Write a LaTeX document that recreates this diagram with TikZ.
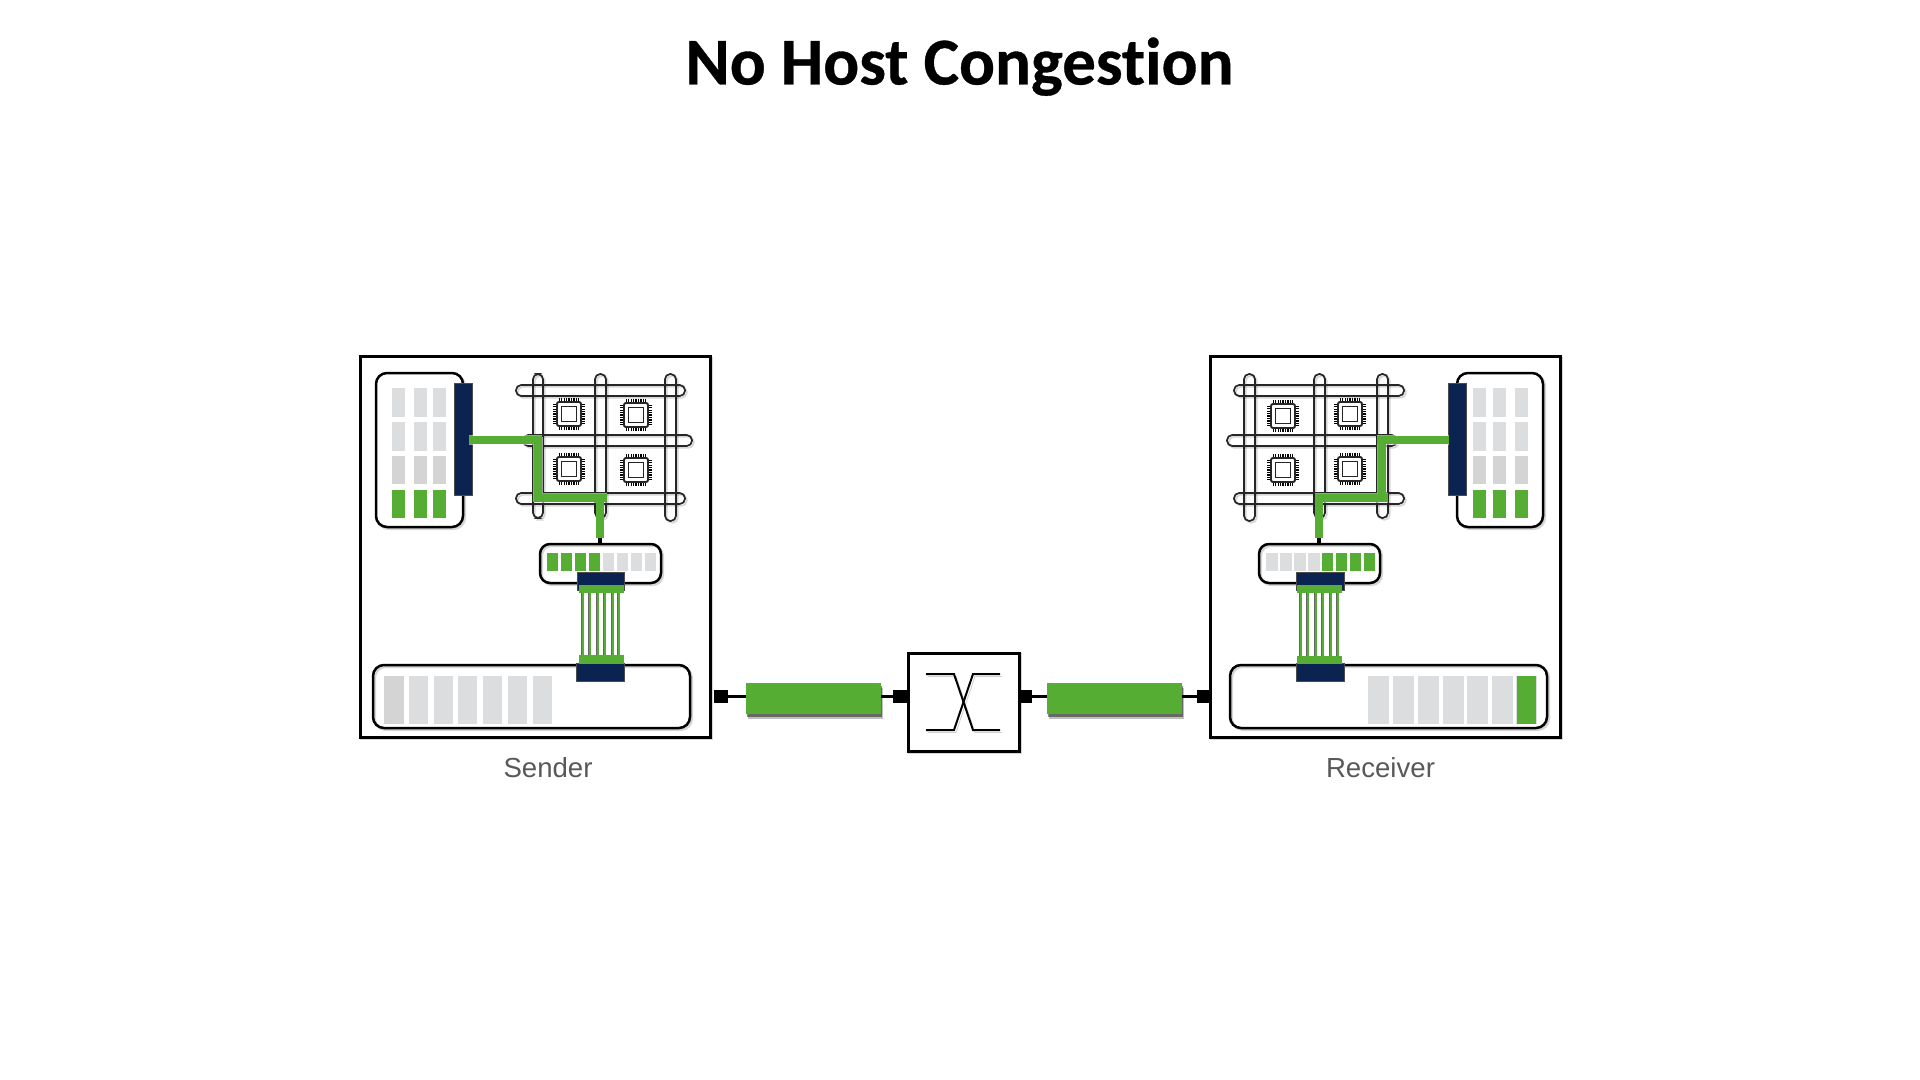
\documentclass[tikz,border=0pt]{standalone}
\usepackage{fontspec}
\setmainfont{Liberation Sans}
\newfontfamily\titlefont[Ligatures=NoCommon,FakeBold=0.5]{Carlito Bold}
\usetikzlibrary{calc}
\definecolor{cellgrey}{HTML}{DCDDDF}
\definecolor{cellgreyb}{HTML}{D4D4D4}
\definecolor{navybar}{HTML}{0A2351}
\definecolor{flowgreen}{HTML}{55AE33}
\definecolor{labelgrey}{HTML}{595959}
\tikzset{
  x=0.5pt,y=-0.5pt,
  softout/.style={preaction={draw=black,draw opacity=.16,fill=none,transform canvas={xshift=.9pt,yshift=-.9pt}}},
  plain/.style={rectangle,inner sep=0pt,outer sep=0pt},
  panel/.style={plain,draw=black,line width=1.5pt,fill=white,softout},
  roundpanel/.style={plain,draw=black,line width=1.25pt,rounded corners=5.5pt,softout},
  pill/.style={plain,draw=black!85,line width=.85pt,rounded corners=2.6pt,softout},
  cellg/.style={plain,fill=cellgrey},
  cellb/.style={plain,fill=cellgreyb},
  cellf/.style={plain,fill=flowgreen},
  navy/.style={plain,fill=navybar,draw=black!70,line width=.3pt},
  buscap/.style={plain,fill=flowgreen},
  port/.style={plain,fill=black},
  linkbar/.style={plain,fill=flowgreen,
    preaction={fill=black,fill opacity=.25,transform canvas={xshift=1pt,yshift=-2.3pt}},
    preaction={fill=black,fill opacity=.45,transform canvas={xshift=.7pt,yshift=-1.5pt}}},
  chipbody/.style={plain,draw=black!85,line width=.95pt,fill=white,minimum size=12pt,rounded corners=1pt},
  chipcore/.style={plain,draw=black!85,line width=.95pt,fill=white,minimum size=7.5pt},
  chippin/.style={draw=black,line width=.6pt},
  route/.style={draw=flowgreen,line width=3.7pt,line join=miter},
  routehalo/.style={draw=white,draw opacity=.55,line width=4.7pt},
  stub/.style={draw=black,line width=2.4pt},
  wire/.style={draw=flowgreen,line width=1.25pt,
    preaction={draw=black,draw opacity=.6,line width=.7pt,transform canvas={xshift=-.6pt}}},
  linkline/.style={draw=black,line width=1.9pt},
  swline/.style={draw=black,line width=1pt,line join=miter,
    preaction={draw=black,draw opacity=.18,transform canvas={xshift=1pt,yshift=-1.2pt}}},
  lbl/.style={plain,text=labelgrey,font=\fontsize{13.8}{16}\selectfont,anchor=base},
  ttl/.style={plain,text=black,font=\titlefont\fontsize{33.5}{40}\selectfont,anchor=base},
}
% style, name, x1, y1, x2, y2
\newcommand\pxbox[6]{\node[#1,anchor=north west,minimum width={((#5)-(#3))*0.5pt},minimum height={((#6)-(#4))*0.5pt}] (#2) at (#3,#4) {};}
% name, x, y
\newcommand\chipnode[3]{%
  \foreach \i in {-4,...,4}{
    \draw[chippin] ({#2+\i*2.45},{#3-16}) -- ({#2+\i*2.45},{#3+16});
    \draw[chippin] ({#2-16},{#3+\i*2.45}) -- ({#2+16},{#3+\i*2.45});
  }
  \node[chipbody] (#1) at (#2,#3) {};
  \node[chipcore] (#1core) at (#2,#3) {};
}
\begin{document}
\begin{tikzpicture}
\useasboundingbox[fill=white] (0,0) rectangle (1920,1080);
\node[ttl] (title) at (959.5,84.5) {No Host Congestion};

% ---------- Sender ----------
\pxbox{panel}{sbox}{360}{357}{710}{737}
\node[lbl] (slabel) at (548,777) {Sender};
\pxbox{roundpanel,fill=white}{smem}{376}{373}{463}{527}
\foreach \cx/\cid in {392/a,414/b,433/c}{
  \pxbox{cellg}{smem\cid1}{\cx}{388}{\cx+13}{417}
  \pxbox{cellg}{smem\cid2}{\cx}{422}{\cx+13}{451}
  \pxbox{cellb}{smem\cid3}{\cx}{456}{\cx+13}{484}
  \pxbox{cellf}{smem\cid4}{\cx}{490}{\cx+13}{518}
}
\pxbox{navy}{smembar}{454}{383}{472}{495}
% interconnect
\pxbox{pill}{sgv1}{533}{374}{543}{518}
\pxbox{pill}{sgv2}{595}{374}{606}{518}
\pxbox{pill}{sgv3}{665}{374}{676}{521}
\pxbox{pill}{sgh1}{516}{385}{685}{396}
\pxbox{pill}{sgh2}{523}{435}{692}{446}
\pxbox{pill}{sgh3}{516}{493}{685}{504}
\chipnode{schip1}{569}{414}
\chipnode{schip2}{636}{415}
\chipnode{schip3}{569}{469}
\chipnode{schip4}{636}{470}
% NIC queue
\pxbox{roundpanel,rounded corners=5pt}{snic}{540}{544}{661}{583}
\foreach \k in {0,...,3}{\pxbox{cellf}{snicf\k}{547+\k*14}{553}{558.3+\k*14}{571}}
\foreach \k in {4,...,7}{\pxbox{cellg}{snicg\k}{547+\k*14}{553}{558.3+\k*14}{571}}
% route
\coordinate (sr0) at (469,440);
\coordinate (sr1) at (541.5,440);
\coordinate (sr2) at (538,436.5);
\coordinate (sr3) at (538,501.5);
\coordinate (sr4) at (534.5,498);
\coordinate (sr5) at (607,498);
\coordinate (sr6) at (600,498);
\coordinate (sr7) at (600,538);
\draw[stub] (sr7) -- (snic.north -| sr7);
\draw[routehalo] (sr0) -- (sr1) (sr2) -- (sr3) (sr4) -- (sr5);
\draw[route] (sr0) -- (sr1);
\draw[route] (sr2) -- (sr3);
\draw[route] (sr4) -- (sr5);
\draw[route] (sr6) -- (sr7);
% lower queue
\pxbox{roundpanel}{sring}{373}{665}{690}{728}
\foreach \cx/\k in {409/1,434/2,458/3,483/4,508/5,533/6}{\pxbox{cellg}{sringc\k}{\cx}{676}{\cx+19}{724}}
\pxbox{cellb}{sringc0}{384}{676}{404}{724}
% DMA bundle
\pxbox{navy}{snicbar}{577}{572}{624}{590}
\pxbox{navy}{sringbar}{576}{663}{624}{681}
\pxbox{buscap}{stopcap}{579}{585}{624}{593}
\pxbox{buscap}{sbotcap}{579}{655}{624}{664}
\foreach \x in {583,590,598,605,613,619}{
  \coordinate (wx) at (\x,0);
  \draw[wire] (stopcap.south -| wx) -- (sbotcap.north -| wx);
}

% ---------- Receiver ----------
\pxbox{panel}{rbox}{1210}{357}{1560}{737}
\node[lbl] (rlabel) at (1380.5,777) {Receiver};
\pxbox{roundpanel,fill=white}{rmem}{1457}{373}{1543}{527}
\foreach \cx/\cid in {1473/a,1493/b,1515/c}{
  \pxbox{cellg}{rmem\cid1}{\cx}{388}{\cx+13}{417}
  \pxbox{cellg}{rmem\cid2}{\cx}{422}{\cx+13}{451}
  \pxbox{cellb}{rmem\cid3}{\cx}{456}{\cx+13}{484}
  \pxbox{cellf}{rmem\cid4}{\cx}{490}{\cx+13}{518}
}
\pxbox{navy}{rmembar}{1448}{383}{1466}{495}
\pxbox{pill}{rgv1}{1244}{374}{1255}{521}
\pxbox{pill}{rgv2}{1314}{374}{1325}{518}
\pxbox{pill}{rgv3}{1377}{374}{1388}{518}
\pxbox{pill}{rgh1}{1234}{385}{1404}{396}
\pxbox{pill}{rgh2}{1227}{435}{1397}{446}
\pxbox{pill}{rgh3}{1234}{493}{1404}{504}
\chipnode{rchip1}{1283}{416}
\chipnode{rchip2}{1350}{414}
\chipnode{rchip3}{1283}{470}
\chipnode{rchip4}{1350}{469}
\pxbox{roundpanel,rounded corners=5pt}{rnic}{1259}{544}{1380}{583}
\foreach \k in {0,...,3}{\pxbox{cellg}{rnicg\k}{1266+\k*14}{553}{1278+\k*14}{571}}
\foreach \k in {4,...,7}{\pxbox{cellf}{rnicf\k}{1266+\k*14}{553}{1277.3+\k*14}{571}}
\coordinate (rr0) at (1449,440);
\coordinate (rr1) at (1377,440);
\coordinate (rr2) at (1382,436.5);
\coordinate (rr3) at (1382,501.5);
\coordinate (rr4) at (1388,498);
\coordinate (rr5) at (1315,498);
\coordinate (rr6) at (1319,498);
\coordinate (rr7) at (1319,538);
\draw[stub] (rr7) -- (rnic.north -| rr7);
\draw[routehalo] (rr0) -- (rr1) (rr2) -- (rr3) (rr4) -- (rr5);
\draw[route] (rr0) -- (rr1);
\draw[route] (rr2) -- (rr3);
\draw[route] (rr4) -- (rr5);
\draw[route] (rr6) -- (rr7);
\pxbox{roundpanel}{rring}{1230}{665}{1547}{728}
\foreach \cx/\k in {1368/0,1393/1,1418/2,1443/3,1467/4,1492/5,1516/6}{\pxbox{cellg}{rringc\k}{\cx}{676}{\cx+20.5}{724}}
\pxbox{cellf}{rringf}{1517}{676}{1536}{724}
\pxbox{navy}{rnicbar}{1296}{572}{1344}{590}
\pxbox{navy}{rringbar}{1296}{663}{1344}{681}
\pxbox{buscap}{rtopcap}{1297}{585}{1342}{593}
\pxbox{buscap}{rbotcap}{1297}{656}{1342}{664}
\foreach \x in {1301,1308,1316,1323,1331,1338}{
  \coordinate (wx) at (\x,0);
  \draw[wire] (rtopcap.south -| wx) -- (rbotcap.north -| wx);
}

% ---------- Network ----------
\pxbox{panel}{swbox}{908}{653}{1019}{751}
\coordinate (sw1) at (926,674); \coordinate (sw2) at (954,674);
\coordinate (sw3) at (973,730); \coordinate (sw4) at (1000,730);
\coordinate (sw5) at (926,730); \coordinate (sw6) at (954,730);
\coordinate (sw7) at (973,674); \coordinate (sw8) at (1000,674);
\draw[swline] (sw1) -- (sw2) -- (sw3) -- (sw4);
\draw[swline] (sw5) -- (sw6) -- (sw7) -- (sw8);

\pxbox{port}{p1}{714}{690}{728}{703}
\pxbox{port}{p2}{893}{690}{907}{703}
\pxbox{port}{p3}{1019}{690}{1032}{703}
\pxbox{port}{p4}{1197}{690}{1210}{703}
\pxbox{linkbar}{l1}{746}{683}{881}{714}
\pxbox{linkbar}{l2}{1047}{683}{1182}{714}
\draw[linkline] (p1.east) -- (l1.west |- p1.east);
\draw[linkline] (l1.east |- p2.west) -- (p2.west);
\draw[linkline] (p3.east) -- (l2.west |- p3.east);
\draw[linkline] (l2.east |- p4.west) -- (p4.west);
\end{tikzpicture}
\end{document}
